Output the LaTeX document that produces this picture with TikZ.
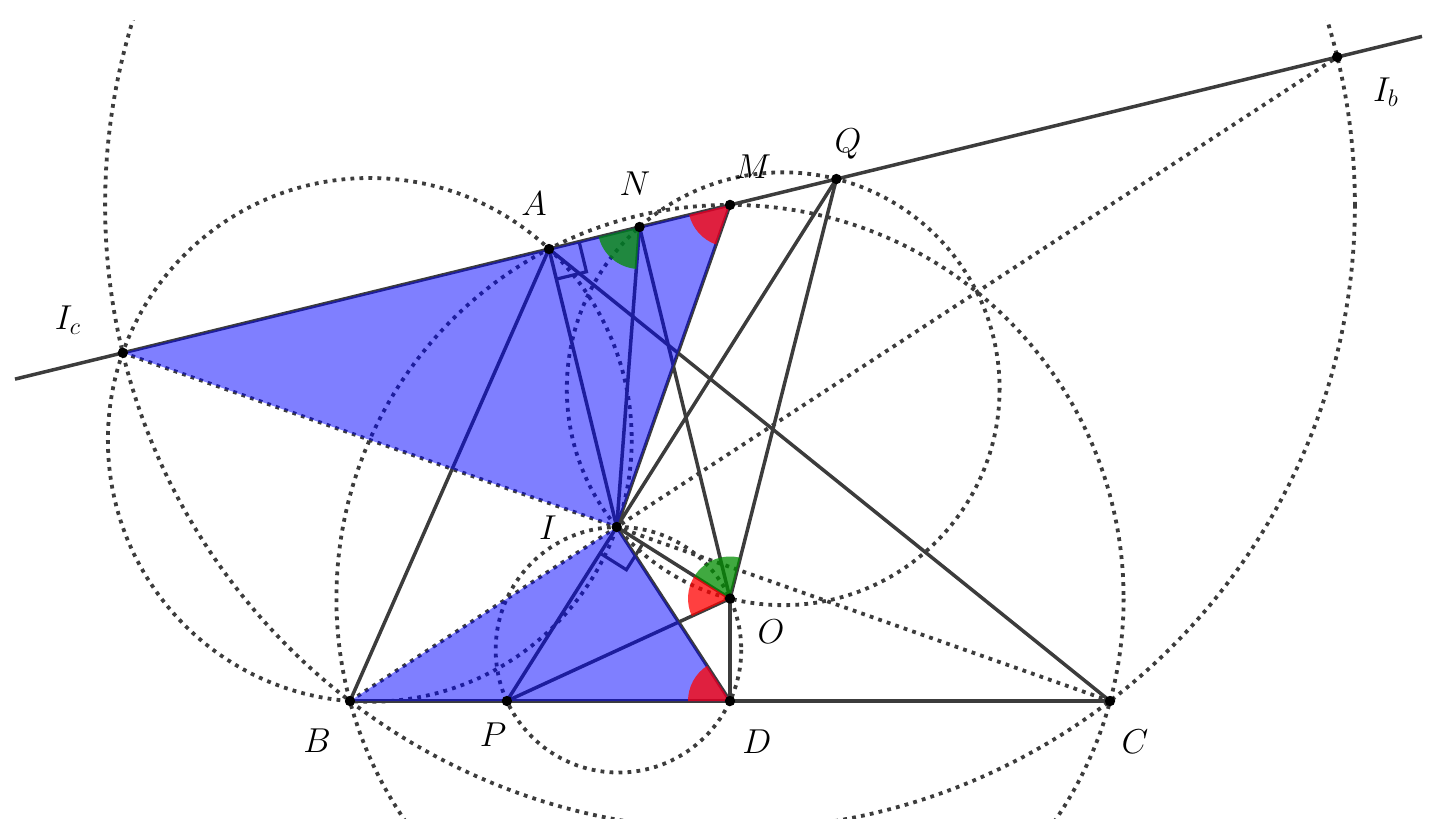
\documentclass[tikz,border=0pt]{standalone}
\usetikzlibrary{calc,angles}
\definecolor{ink}{RGB}{60,60,60}
\definecolor{sectgreen}{RGB}{0,140,0}
\begin{document}
\begin{tikzpicture}[x=0.5pt,y=-0.5pt,
  solidline/.style={draw=ink,line width=1.75pt},
  dotline/.style={draw=ink,line width=1.9pt,dash pattern=on 1.9pt off 2.6pt},
  bluefill/.style={fill=blue,fill opacity=0.5},
  redsector/.style={fill=red,fill opacity=0.75,angle radius=21pt},
  greensector/.style={fill=sectgreen,fill opacity=0.75,angle radius=21pt},
  rightmark/.style={draw=ink,line width=1.6pt},
  ptdot/.style={circle,fill=black,inner sep=0pt,minimum size=5.2pt},
  lbl/.style={font=\LARGE,inner sep=0pt}]
\useasboundingbox (0,0) rectangle (1434,832);
% points
\coordinate (B) at (350,701);
\coordinate (C) at (1110,701);
\coordinate (A) at (549,249);
\coordinate (I) at (616.72,527);
\coordinate (Ic) at (122.85,352.8);
\coordinate (Ib) at (1337.15,57.02);
\coordinate (M) at (730,204.9);
\coordinate (D) at (730,701);
\coordinate (O) at (730,598.5);
\coordinate (P) at (506.9,701);
\coordinate (Q) at (836.4,179);
\coordinate (N) at (639.5,227);
\coordinate (L1) at (15,379.1);
\coordinate (L2) at (1422,36.4);
% circle centres
\coordinate (cIcI) at (369.79,439.9);
\coordinate (cOQ) at (783.2,388.75);
\coordinate (cPIOD) at (618.45,649.75);
% dotted circles
\begin{scope}
\clip (15,20) rectangle (1422,818);
\draw[dotline] (M) circle[radius=624.9];
\draw[dotline] (O) circle[radius=393.6];
\draw[dotline] (cIcI) circle[radius=261.9];
\draw[dotline] (cOQ) circle[radius=216.4];
\draw[dotline] (cPIOD) circle[radius=122.76];
\end{scope}
% dotted lines
\draw[dotline] (Ic) -- (C);
\draw[dotline] (B) -- (Ib);
% solid lines
\draw[solidline] (L1) -- (L2);
\draw[solidline] (A) -- (B);
\draw[solidline] (B) -- (C);
\draw[solidline] (A) -- (C);
\draw[solidline] (A) -- (I);
\draw[solidline] (M) -- (I);
\draw[solidline] (N) -- (I);
\draw[solidline] (N) -- (O);
\draw[solidline] (Q) -- (P);
\draw[solidline] (Q) -- (O);
\draw[solidline] (I) -- (O);
\draw[solidline] (O) -- (P);
\draw[solidline] (O) -- (D);
\draw[solidline] (I) -- (D);
% right-angle marks
\coordinate (Au) at ($(A)!15.5pt!(M)$);
\coordinate (Av) at ($(A)!15.5pt!(I)$);
\coordinate (Aw) at ($(Au)+(Av)-(A)$);
\draw[rightmark] (Au) -- (Aw) -- (Av);
\coordinate (Iu) at ($(I)!15.5pt!(P)$);
\coordinate (Iv) at ($(I)!15.5pt!(O)$);
\coordinate (Iw) at ($(Iu)+(Iv)-(I)$);
\draw[rightmark] (Iu) -- (Iw) -- (Iv);
% blue triangles
\path[bluefill] (Ic) -- (M) -- (I) -- cycle;
\path[bluefill] (B) -- (D) -- (I) -- cycle;
% angle sectors
\pic[redsector] {angle = A--M--I};
\pic[redsector] {angle = I--D--B};
\pic[redsector] {angle = I--O--P};
\pic[greensector] {angle = A--N--I};
\pic[greensector] {angle = Q--O--I};
% point dots
\foreach \p in {A,B,C,D,I,Ic,Ib,M,N,O,P,Q}
  \node[ptdot] (d\p) at (\p) {};
% labels
\node[lbl] (tA) at (534,204) {$A$};
\node[lbl] (tN) at (635,184) {$N$};
\node[lbl] (tM) at (753,167) {$M$};
\node[lbl] (tQ) at (848,144) {$Q$};
\node[lbl] (tIb) at (1386,92) {$I_b$};
\node[lbl] (tIc) at (68,320) {$I_c$};
\node[lbl] (tI) at (548,528) {$I$};
\node[lbl] (tO) at (771,632) {$O$};
\node[lbl] (tB) at (317,741) {$B$};
\node[lbl] (tP) at (493,735) {$P$};
\node[lbl] (tD) at (757,742) {$D$};
\node[lbl] (tC) at (1135,742) {$C$};
\end{tikzpicture}
\end{document}
